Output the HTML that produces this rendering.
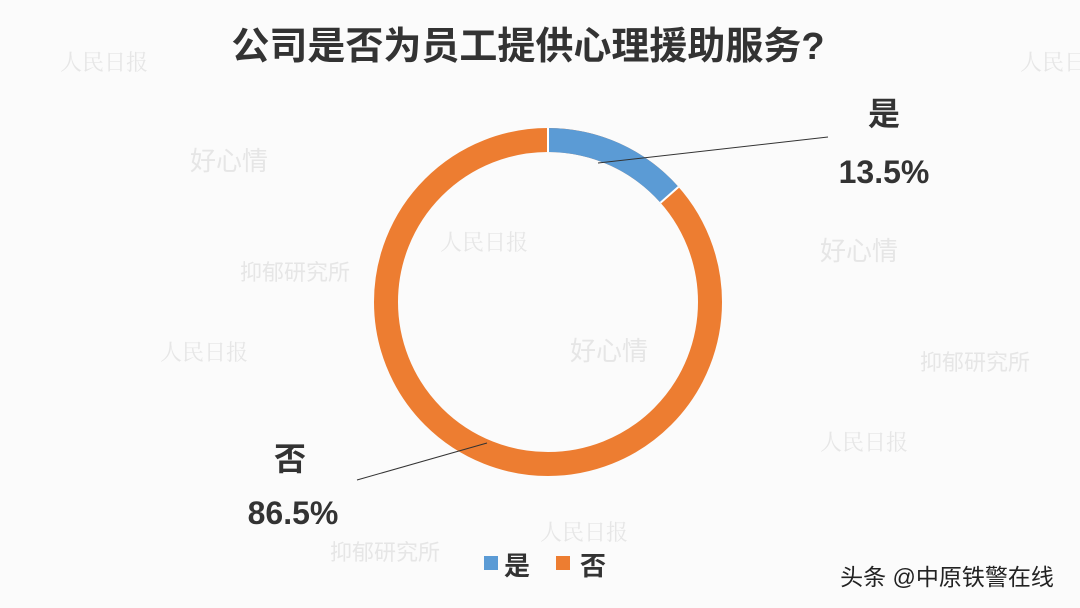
<!DOCTYPE html>
<html><head><meta charset="utf-8"><style>
body{margin:0;width:1080px;height:608px;background:#fbfbfb;overflow:hidden;font-family:"Liberation Sans","Noto Sans CJK SC",sans-serif;}
</style></head><body>
<svg width="1080" height="608" viewBox="0 0 1080 608" xmlns="http://www.w3.org/2000/svg" style="position:absolute;left:0;top:0">
<rect width="1080" height="608" fill="#fbfbfb"/>
<g fill="#e6e6e6" font-family="'Noto Serif CJK SC',serif" font-size="22">
<text x="60" y="70">人民日报</text><text x="440" y="250">人民日报</text><text x="160" y="360">人民日报</text><text x="820" y="450">人民日报</text><text x="540" y="540">人民日报</text><text x="1020" y="70">人民日报</text>
<text x="570" y="360" font-family="'Noto Sans CJK SC',sans-serif" font-size="26">好心情</text>
<text x="820" y="260" font-family="'Noto Sans CJK SC',sans-serif" font-size="26">好心情</text>
<text x="190" y="170" font-family="'Noto Sans CJK SC',sans-serif" font-size="26">好心情</text>
<text x="920" y="370" font-family="'Noto Sans CJK SC',sans-serif" font-size="22">抑郁研究所</text>
<text x="240" y="280" font-family="'Noto Sans CJK SC',sans-serif" font-size="22">抑郁研究所</text>
<text x="330" y="560" font-family="'Noto Sans CJK SC',sans-serif" font-size="22">抑郁研究所</text>
</g>
<text x="528" y="59" text-anchor="middle" font-size="38" font-weight="bold" fill="#333">公司是否为员工提供心理援助服务?</text>
<circle cx="548" cy="302" r="162" fill="none" stroke="#ED7D31" stroke-width="24"/>
<path d="M548,128 A174,174 0 0 1 678.5,186.9 L660.5,202.8 A150,150 0 0 0 548,152 Z" fill="#5B9BD5"/>
<line x1="548" y1="128" x2="548" y2="152" stroke="#fff" stroke-width="2"/>
<line x1="678.5" y1="186.9" x2="660.5" y2="202.8" stroke="#fff" stroke-width="2"/>
<line x1="598" y1="163" x2="828" y2="137" stroke="#333" stroke-width="1"/>
<line x1="357" y1="480" x2="487" y2="443" stroke="#333" stroke-width="1"/>
<g font-size="32" font-weight="bold" fill="#333" text-anchor="middle">
<text x="884" y="125">是</text><text x="884" y="183">13.5%</text>
<text x="290" y="470">否</text><text x="293" y="524">86.5%</text>
</g>
<rect x="484" y="556" width="14" height="14" fill="#5B9BD5"/>
<text x="504" y="575" font-size="26" font-weight="bold" fill="#333">是</text>
<rect x="556" y="556" width="14" height="14" fill="#ED7D31"/>
<text x="580" y="575" font-size="26" font-weight="bold" fill="#333">否</text>
<text x="947" y="585" text-anchor="middle" font-size="23" fill="#222">头条 @中原铁警在线</text>
</svg>
</body></html>
